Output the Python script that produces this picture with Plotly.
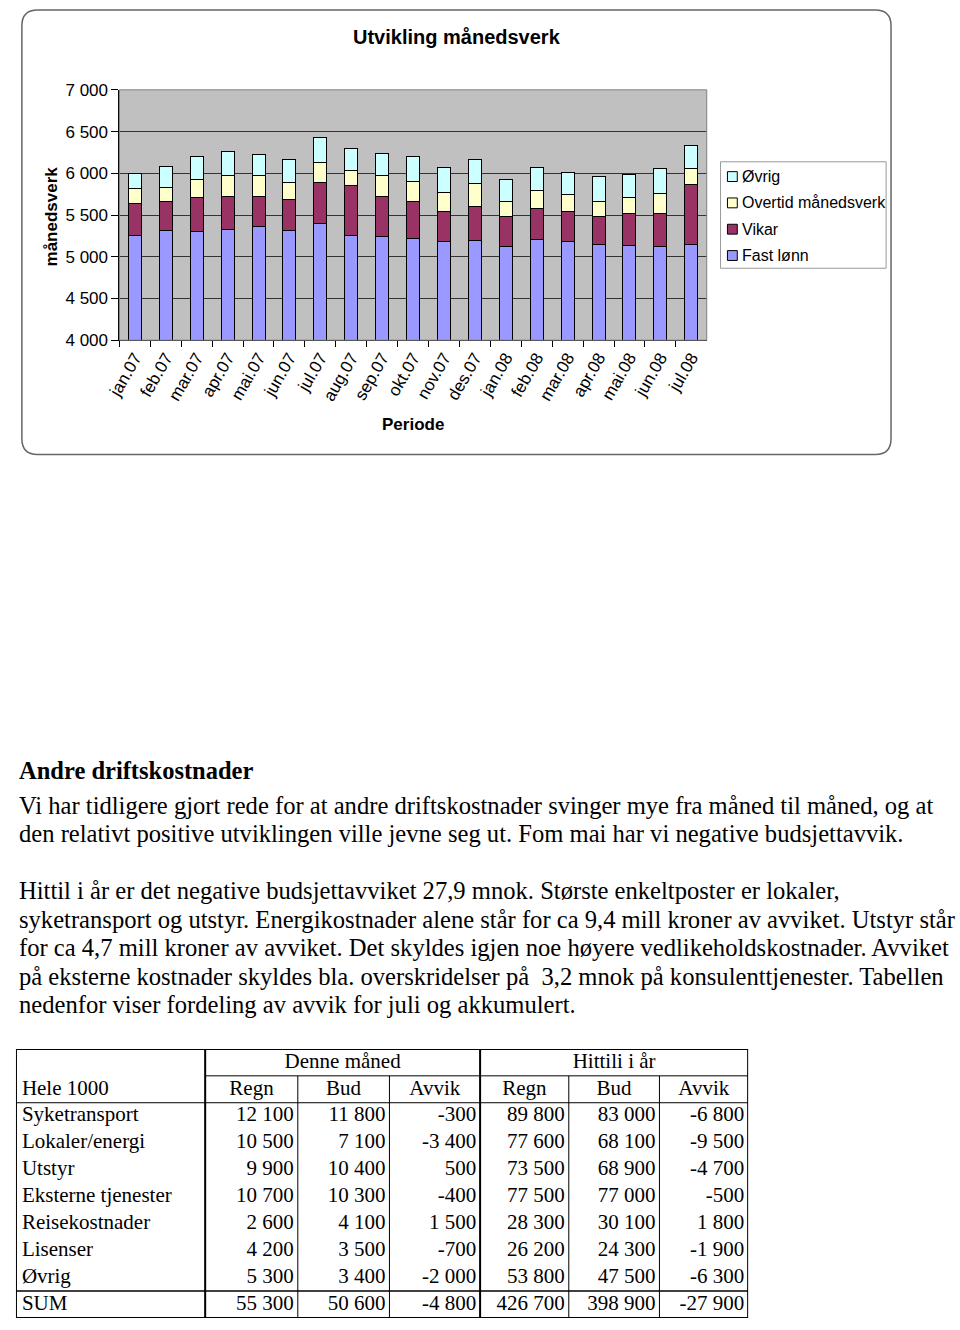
import plotly.graph_objects as go

# ---------------- data ----------------
months = ["jan.07", "feb.07", "mar.07", "apr.07", "mai.07", "jun.07", "jul.07",
          "aug.07", "sep.07", "okt.07", "nov.07", "des.07", "jan.08", "feb.08",
          "mar.08", "apr.08", "mai.08", "jun.08", "jul.08"]
fast_lonn = [5258, 5317, 5301, 5329, 5360, 5317, 5396, 5258, 5242, 5222,
             5183, 5199, 5124, 5207, 5183, 5151, 5140, 5124, 5151]
vikar = [378, 343, 406, 398, 367, 367, 497, 591, 485, 438,
         359, 402, 359, 366, 359, 332, 374, 390, 714]
overtid = [178, 170, 217, 241, 241, 209, 236, 190, 241, 244,
           224, 272, 177, 225, 201, 177, 193, 245, 197]
ovrig = [181, 248, 276, 291, 260, 272, 296, 260, 272, 292,
         308, 292, 264, 276, 268, 296, 280, 303, 272]
series_names = ["Fast lønn", "Vikar", "Overtid månedsverk", "Øvrig"]
y_ticks = [4000, 4500, 5000, 5500, 6000, 6500, 7000]

row_labels = ["Syketransport", "Lokaler/energi", "Utstyr", "Eksterne tjenester",
              "Reisekostnader", "Lisenser", "Øvrig"]
denne_regn = [12100, 10500, 9900, 10700, 2600, 4200, 5300]
denne_bud = [11800, 7100, 10400, 10300, 4100, 3500, 3400]
denne_avvik = [-300, -3400, 500, -400, 1500, -700, -2000]
hittil_regn = [89800, 77600, 73500, 77500, 28300, 26200, 53800]
hittil_bud = [83000, 68100, 68900, 77000, 30100, 24300, 47500]
hittil_avvik = [-6800, -9500, -4700, -500, 1800, -1900, -6300]
sum_label = "SUM"
sum_row = [55300, 50600, -4800, 426700, 398900, -27900]
group_headers = ["Denne måned", "Hittili i år"]
col_headers = ["Hele 1000", "Regn", "Bud", "Avvik", "Regn", "Bud", "Avvik"]

heading = "Andre driftskostnader"
paragraph_lines = [
    "Vi har tidligere gjort rede for at andre driftskostnader svinger mye fra måned til måned, og at",
    "den relativt positive utviklingen ville jevne seg ut. Fom mai har vi negative budsjettavvik.",
    "",
    "Hittil i år er det negative budsjettavviket 27,9 mnok. Største enkeltposter er lokaler,",
    "syketransport og utstyr. Energikostnader alene står for ca 9,4 mill kroner av avviket. Utstyr står",
    "for ca 4,7 mill kroner av avviket. Det skyldes igjen noe høyere vedlikeholdskostnader. Avviket",
    "på eksterne kostnader skyldes bla. overskridelser på  3,2 mnok på konsulenttjenester. Tabellen",
    "nedenfor viser fordeling av avvik for juli og akkumulert.",
]

# ---------------- layout helpers ----------------
W, H = 960, 1330
def px(x):
    return x / W
def py(y):
    return 1 - y / H

SANS = "Liberation Sans, Arial, sans-serif"
SERIF = "Liberation Serif, Times New Roman, serif"
colors = ["#9999FF", "#993366", "#FFFFCC", "#CCFFFF"]

fig = go.Figure()
for name, vals, col in zip(series_names, [fast_lonn, vikar, overtid, ovrig], colors):
    fig.add_trace(go.Bar(x=months, y=vals, name=name, marker=dict(color=col, line=dict(color="black", width=1)),
                         showlegend=False, hoverinfo="x+y+name"))

shapes = []
annotations = []

def note(text, x, y, size, family=SANS, xanchor="center", angle=0):
    annotations.append(dict(text=text, x=px(x), y=py(y), xref="paper", yref="paper", xanchor=xanchor,
                            yanchor="middle", showarrow=False, textangle=angle,
                            font=dict(family=family, size=size, color="black")))

# chart outer rounded box
x0, x1, y0, y1, r = 8, 890, 1, 452, 16
rx, ry = r / W, r / H
X0, X1, Y0, Y1 = px(x0), px(x1), py(y0), py(y1)
path = (f"M {X0+rx},{Y0} L {X1-rx},{Y0} Q {X1},{Y0} {X1},{Y0-ry} "
        f"L {X1},{Y1+ry} Q {X1},{Y1} {X1-rx},{Y1} L {X0+rx},{Y1} Q {X0},{Y1} {X0},{Y1+ry} "
        f"L {X0},{Y0-ry} Q {X0},{Y0} {X0+rx},{Y0} Z")
shapes.append(dict(type="path", xref="paper", yref="paper", path=path,
                   line=dict(color="#666666", width=1.5), layer="below"))

# plot-area gray background and border
pl, pr, pt, pb = 107, 703, 82, 336
shapes.append(dict(type="rect", xref="paper", yref="paper", x0=px(pl), x1=px(pr), y0=py(pb), y1=py(pt),
                   fillcolor="#C0C0C0", line=dict(width=0), layer="below"))
shapes.append(dict(type="rect", xref="paper", yref="paper", x0=px(pl), x1=px(pr), y0=py(pb), y1=py(pt),
                   line=dict(color="#808080", width=1), layer="above"))

note("<b>Utvikling månedsverk</b>", 450, 28, 20)
note("<b>månedsverk</b>", 38, 210, 17, angle=-90)
note("<b>Periode</b>", 405, 422, 17)

# manual legend
shapes.append(dict(type="rect", xref="paper", yref="paper", x0=px(717), x1=px(885), y0=py(263), y1=py(155),
                   line=dict(color="#999999", width=1), fillcolor="white", layer="below"))
for i, (name, col) in enumerate(reversed(list(zip(series_names, colors)))):
    yc = 170 + i * 26.7
    shapes.append(dict(type="rect", xref="paper", yref="paper", x0=px(724), x1=px(734),
                       y0=py(yc + 5), y1=py(yc - 5), fillcolor=col, line=dict(color="black", width=1)))
    note(name, 737, yc, 16, xanchor="left")

# text paragraphs
note("<b>" + heading + "</b>", 3, 773, 24.5, family=SERIF, xanchor="left")
for i, line in enumerate(paragraph_lines):
    if line:
        note(line, 3, 808 + i * 28.9, 24.6, family=SERIF, xanchor="left")

# ---------------- table ----------------
edges = [0, 192, 286, 379, 471, 561, 653, 743]
n_rows = 10
tx, ty, tpos = [], [], []
ttext = []
for g, text in enumerate(group_headers):
    a, b = edges[1 + 3 * g], edges[4 + 3 * g]
    tx.append((a + b) / 2); ty.append(0.5); ttext.append(text); tpos.append("middle center")
tx.append(edges[0] + 6); ty.append(1.5); ttext.append(col_headers[0]); tpos.append("middle right")
for c in range(1, 7):
    tx.append((edges[c] + edges[c + 1]) / 2); ty.append(1.5); ttext.append(col_headers[c]); tpos.append("middle center")

def fmt(v):
    return f"{v:,}".replace(",", " ")

cols = [denne_regn, denne_bud, denne_avvik, hittil_regn, hittil_bud, hittil_avvik]
rows = [(lab, [c[i] for c in cols]) for i, lab in enumerate(row_labels)] + [(sum_label, sum_row)]
for r_i, (lab, vals) in enumerate(rows):
    yc = 2.5 + r_i
    tx.append(edges[0] + 6); ty.append(yc); ttext.append(lab); tpos.append("middle right")
    for c, v in enumerate(vals):
        tx.append(edges[c + 2] - 4); ty.append(yc); ttext.append(fmt(v)); tpos.append("middle left")

fig.add_trace(go.Scatter(x=tx, y=ty, text=ttext, mode="text", textposition=tpos, xaxis="x3", yaxis="y3",
                         textfont=dict(family=SERIF, size=21, color="black"), showlegend=False,
                         hoverinfo="skip", cliponaxis=False))

def tline(xa, xb, ya, yb, w=1):
    shapes.append(dict(type="line", xref="x3", yref="y3", x0=xa, x1=xb, y0=ya, y1=yb,
                       line=dict(color="black", width=w)))

shapes.append(dict(type="rect", xref="x3", yref="y3", x0=0, x1=edges[-1], y0=0, y1=n_rows,
                   line=dict(color="black", width=2)))
for c in range(1, 7):
    if c in (1, 4):
        tline(edges[c], edges[c], 0, n_rows, 2)
    else:
        tline(edges[c], edges[c], 1, n_rows, 1)
tline(edges[1], edges[-1], 1, 1, 1)
tline(0, edges[-1], 2, 2, 1)
tline(0, edges[-1], 9, 9, 1.5)

fig.update_layout(
    width=W, height=H, margin=dict(l=0, r=0, t=0, b=0),
    paper_bgcolor="white", plot_bgcolor="rgba(0,0,0,0)",
    barmode="stack", bargap=0.58, separators=", ",
    font=dict(family=SANS, color="black"),
    xaxis=dict(domain=[px(pl), px(pr)], type="category", tickangle=-60, ticks="outside", ticklen=6,
               tickcolor="black", tickson="boundaries", showline=True, linecolor="black", linewidth=1,
               tickfont=dict(family=SANS, size=17, color="black"), showgrid=False, fixedrange=True),
    yaxis=dict(domain=[py(pb), py(pt)], range=[4000, 7000], tickvals=y_ticks, tickformat=",d",
               ticks="outside", ticklen=7, tickcolor="black", showline=True, linecolor="black", linewidth=1,
               gridcolor="#333333", gridwidth=1, tickfont=dict(family=SANS, size=17, color="black"),
               zeroline=False, fixedrange=True),
    xaxis3=dict(domain=[px(2), px(745)], range=[0, edges[-1]], visible=False, fixedrange=True),
    yaxis3=dict(domain=[py(1328), py(1055)], range=[n_rows, 0], visible=False, fixedrange=True),
    shapes=shapes, annotations=annotations,
)

fig.write_html("out.html", config={"displayModeBar": False},
               post_script="document.body.style.margin='0';document.body.style.overflow='hidden';")
